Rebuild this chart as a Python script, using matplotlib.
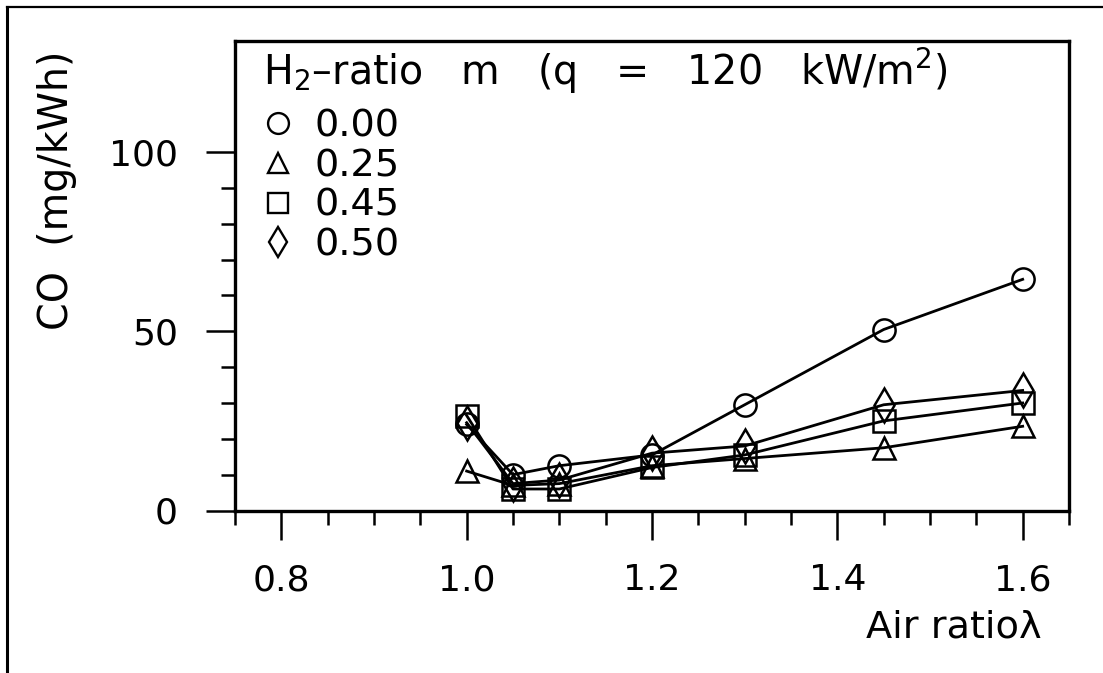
import matplotlib
matplotlib.use("Agg")
import matplotlib.pyplot as plt
from matplotlib.lines import Line2D
from matplotlib.ticker import FixedLocator

# Air ratio and CO emission for each H2 ratio (q = 120 kW/m2)
air_ratio = [1.0, 1.05, 1.1, 1.2, 1.3, 1.45, 1.6]
co_m000 = [24.0, 10.0, 12.5, 15.5, 29.5, 50.5, 64.5]
co_m025 = [11.0, 7.0, 7.5, 12.5, 14.5, 17.5, 23.5]
co_m045 = [26.5, 6.0, 6.0, 12.0, 15.5, 25.0, 30.0]
co_m050 = [24.5, 7.5, 8.5, 16.0, 18.0, 29.5, 33.5]

series = [co_m000, co_m025, co_m045, co_m050]
labels = ['0.00', '0.25', '0.45', '0.50']
markers = ['o', '^', 's', 'd']

x_major = [0.8, 1.0, 1.2, 1.4, 1.6]
x_minor = [0.75, 0.85, 0.9, 0.95, 1.05, 1.1, 1.15, 1.25, 1.3, 1.35, 1.45, 1.5, 1.55, 1.65]
y_major = [0, 50, 100]
y_minor = [10, 20, 30, 40, 60, 70, 80, 90]

plt.rcParams['font.family'] = ['DejaVu Sans']
fs = 26
fs_leg = 27.5

fig = plt.figure(figsize=(11.03, 6.73), dpi=100)
ax = fig.add_axes([235 / 1103, 1 - 510.5 / 673, 834 / 1103, 469.5 / 673])

for vals, mk in zip(series, markers):
    ax.plot(air_ratio, vals, color='black', linewidth=2.0, marker=mk,
            markersize=16 if mk != 'd' else 17, markerfacecolor='none',
            markeredgecolor='black', markeredgewidth=1.8)

ax.set_xlim(0.75, 1.65)
ax.set_ylim(0, 131)

ax.xaxis.set_major_locator(FixedLocator(x_major))
ax.xaxis.set_minor_locator(FixedLocator(x_minor))
ax.yaxis.set_major_locator(FixedLocator(y_major))
ax.yaxis.set_minor_locator(FixedLocator(y_minor))
ax.set_xticklabels(['0.8', '1.0', '1.2', '1.4', '1.6'])
ax.set_yticklabels(['0', '50', '100'])

ax.tick_params(which='major', direction='out', length=21, width=1.8,
               labelsize=fs, pad=17)
ax.tick_params(which='minor', direction='out', length=10, width=1.8)
ax.tick_params(axis='y', which='major', pad=20)
for sp in ax.spines.values():
    sp.set_linewidth(2.4)

fig.text(57 / 1103, 1 - 190 / 673, 'CO  (mg/kWh)', rotation=90,
         ha='center', va='center', fontsize=28.5)
fig.text(1042 / 1103, 1 - 628 / 673, 'Air ratio\u03bb', ha='right',
         va='center', fontsize=fs_leg)

handles = [Line2D([], [], linestyle='none', marker=mk, markersize=15,
                  markerfacecolor='none', markeredgecolor='black',
                  markeredgewidth=1.7) for mk in markers]
leg = ax.legend(handles, labels,
                title='H$_2$\u2013ratio   m   (q   =   120   kW/m$^2$)',
                loc='upper left', bbox_to_anchor=(0.034, 0.99),
                frameon=False, fontsize=fs_leg, title_fontsize=28.5,
                alignment='left', borderpad=0, borderaxespad=0,
                handlelength=0.75, handletextpad=0.6, labelspacing=0.1)
leg._legend_box.sep = 9

# outer frame (left and top edges)
fig.add_artist(Line2D([7 / 1103, 7 / 1103], [0, 1 - 6.5 / 673],
                      transform=fig.transFigure, color='black', linewidth=2.2))
fig.add_artist(Line2D([7 / 1103, 1], [1 - 6.5 / 673, 1 - 6.5 / 673],
                      transform=fig.transFigure, color='black', linewidth=1.6))

fig.savefig('out.png', dpi=100)
